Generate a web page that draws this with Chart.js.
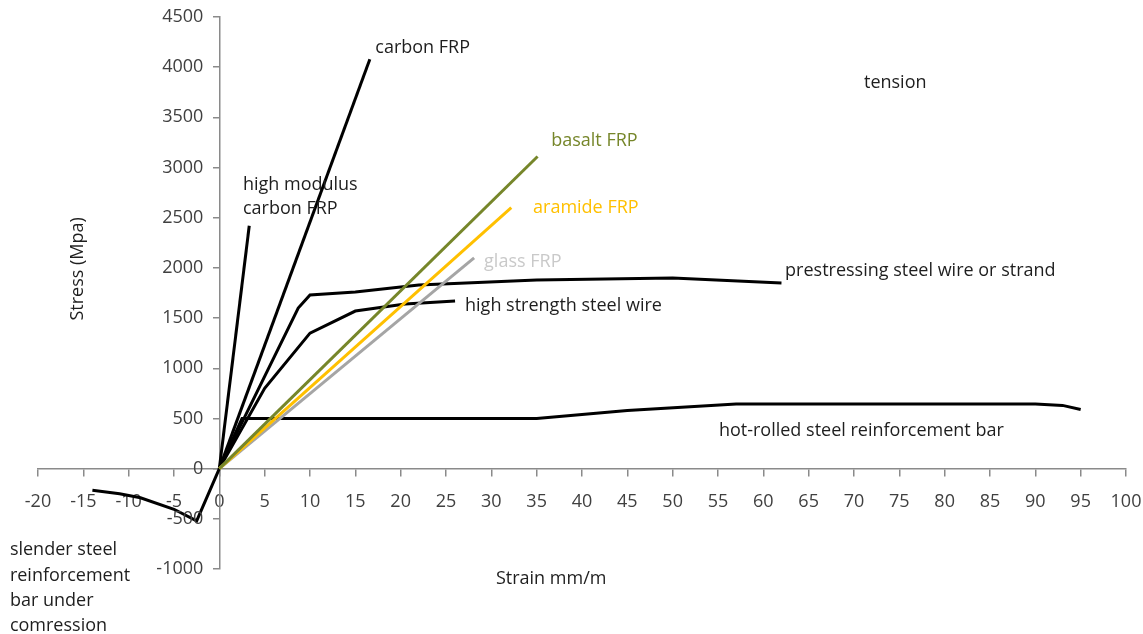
<!DOCTYPE html>
<html>
<head>
<meta charset="utf-8">
<script src="https://cdn.jsdelivr.net/npm/chart.js@4"></script>
<style>
  body { margin: 0; background: #fff; }
  #wrap { width: 1143px; height: 634px; position: relative; }
</style>
</head>
<body>
<div id="wrap"><canvas id="stressStrainChart"></canvas></div>
<script>
// strain in mm/m, stress in MPa
const carbonStrain = [0, 16.6];
const carbonStress = [0, 4080];
const hmCarbonStrain = [0, 3.3];
const hmCarbonStress = [0, 2420];
const basaltStrain = [0, 35.1];
const basaltStress = [0, 3110];
const aramideStrain = [0, 32.2];
const aramideStress = [0, 2600];
const glassStrain = [0, 28.1];
const glassStress = [0, 2100];
const prestressStrain = [0, 8.7, 10, 15, 22, 35, 50, 62];
const prestressStress = [0, 1600, 1730, 1760, 1830, 1880, 1900, 1850];
const hsWireStrain = [0, 5, 10, 15, 20.5, 26];
const hsWireStress = [0, 800, 1350, 1570, 1640, 1670];
const hotRolledStrain = [0, 2.5, 35, 45, 57, 75, 90, 93, 95];
const hotRolledStress = [0, 500, 500, 580, 645, 645, 645, 630, 590];
const compStrain = [-14, -11, -8.7, -5, -2.5, 0];
const compStress = [-215, -250, -290, -405, -520, 0];

const xTicks = { min: -20, max: 100, step: 5 };
const yTicks = { min: -1000, max: 4500, step: 500 };

// text labels placed in data units
const notes = [
    { text: 'carbon FRP', x: 17.2, y: 4195, color: '#1e1e1e' },
    { text: 'high modulus', x: 2.6, y: 2826, color: '#1e1e1e' },
    { text: 'carbon FRP', x: 2.6, y: 2587, color: '#1e1e1e' },
    { text: 'basalt FRP', x: 36.6, y: 3263, color: '#76862a' },
    { text: 'aramide FRP', x: 34.6, y: 2596, color: '#ffc000' },
    { text: 'glass FRP', x: 29.2, y: 2057, color: '#c9c9c9' },
    { text: 'prestressing steel wire or strand', x: 62.4, y: 1968, color: '#1e1e1e' },
    { text: 'high strength steel wire', x: 27.1, y: 1620, color: '#1e1e1e' },
    { text: 'hot-rolled steel reinforcement bar', x: 55.1, y: 375, color: '#1e1e1e' },
    { text: 'tension', x: 71.1, y: 3843, color: '#1e1e1e' },
    { text: 'slender steel', x: -23.1, y: -811, color: '#1e1e1e' },
    { text: 'reinforcement', x: -23.1, y: -1066, color: '#1e1e1e' },
    { text: 'bar under', x: -23.1, y: -1315, color: '#1e1e1e' },
    { text: 'comression', x: -23.1, y: -1564, color: '#1e1e1e' }
];

function toPoints(xs, ys) {
    return xs.map((x, i) => ({ x: x, y: ys[i] }));
}

function series(label, xs, ys, color) {
    return {
        label: label,
        data: toPoints(xs, ys),
        showLine: true,
        borderColor: color,
        borderWidth: 3,
        pointRadius: 0,
        tension: 0,
        fill: false
    };
}

// notes, axis titles and the y tick labels (chart.js puts those right on the axis when it sits at x=0)
const notesPlugin = {
    id: 'notes',
    afterDraw(chart) {
        const ctx = chart.ctx;
        const xs = chart.scales.x;
        const ys = chart.scales.y;
        ctx.save();
        ctx.textBaseline = 'middle';

        ctx.font = "18px 'Open Sans', sans-serif";
        ctx.fillStyle = '#404040';
        ctx.textAlign = 'right';
        const axisX = xs.getPixelForValue(0);
        ys.ticks.forEach(t => {
            ctx.fillText(String(t.value), axisX - 16, ys.getPixelForValue(t.value));
        });

        ctx.textAlign = 'left';
        notes.forEach(n => {
            ctx.fillStyle = n.color;
            ctx.fillText(n.text, xs.getPixelForValue(n.x), ys.getPixelForValue(n.y));
        });

        ctx.fillStyle = '#1e1e1e';
        ctx.textAlign = 'center';
        ctx.fillText('Strain mm/m', xs.getPixelForValue(36.6), ys.getPixelForValue(-1096));
        ctx.translate(xs.getPixelForValue(-15.6), ys.getPixelForValue(1990));
        ctx.rotate(-Math.PI / 2);
        ctx.fillText('Stress (Mpa)', 0, 0);
        ctx.restore();
    }
};

Chart.defaults.font.family = "'Open Sans', sans-serif";

const axisColor = '#8a8a8a';

new Chart(document.getElementById('stressStrainChart'), {
    type: 'scatter',
    data: {
        datasets: [
            series('basalt FRP', basaltStrain, basaltStress, '#76862a'),
            series('aramide FRP', aramideStrain, aramideStress, '#ffc000'),
            series('glass FRP', glassStrain, glassStress, '#a5a5a5'),
            series('carbon FRP', carbonStrain, carbonStress, '#000000'),
            series('high modulus carbon FRP', hmCarbonStrain, hmCarbonStress, '#000000'),
            series('prestressing steel wire or strand', prestressStrain, prestressStress, '#000000'),
            series('high strength steel wire', hsWireStrain, hsWireStress, '#000000'),
            series('hot-rolled steel reinforcement bar', hotRolledStrain, hotRolledStress, '#000000'),
            series('slender steel reinforcement bar under comression', compStrain, compStress, '#000000')
        ]
    },
    options: {
        responsive: true,
        maintainAspectRatio: false,
        animation: false,
        layout: {
            padding: { left: 38, right: 17, top: 17, bottom: 65 }
        },
        plugins: {
            legend: { display: false },
            tooltip: { enabled: false }
        },
        scales: {
            x: {
                type: 'linear',
                position: { y: 0 },
                min: xTicks.min,
                max: xTicks.max,
                // the tick padding would otherwise be added to the side padding too
                afterFit: scale => {
                    scale.paddingLeft = 16;
                    scale.paddingRight = 16;
                },
                border: { display: true, color: axisColor, width: 1.5 },
                grid: {
                    drawOnChartArea: false,
                    drawTicks: true,
                    tickLength: 7,
                    color: axisColor,
                    lineWidth: 1.5
                },
                ticks: {
                    stepSize: xTicks.step,
                    padding: 15,
                    color: '#404040',
                    font: { size: 18 },
                    maxRotation: 0,
                    autoSkip: false,
                    callback: v => String(v)
                }
            },
            y: {
                type: 'linear',
                position: { x: 0 },
                min: yTicks.min,
                max: yTicks.max,
                border: { display: true, color: axisColor, width: 1.5 },
                grid: {
                    drawOnChartArea: false,
                    drawTicks: true,
                    tickLength: 6,
                    color: axisColor,
                    lineWidth: 1.5
                },
                ticks: {
                    display: false,
                    stepSize: yTicks.step,
                    autoSkip: false
                }
            }
        }
    },
    plugins: [notesPlugin]
});
</script>
</body>
</html>
